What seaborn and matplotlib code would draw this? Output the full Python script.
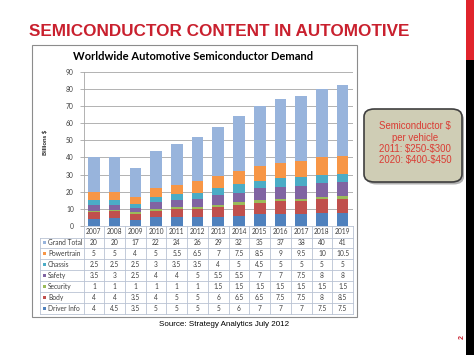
import pandas as pd
import seaborn as sns
import matplotlib.pyplot as plt
from matplotlib.patches import FancyBboxPatch, Rectangle
from matplotlib.lines import Line2D

# data (Billions $)
years = ["2007", "2008", "2009", "2010", "2011", "2012", "2013",
         "2014", "2015", "2016", "2017", "2018", "2019"]
grand_total = [20, 20, 17, 22, 24, 26, 29, 32, 35, 37, 38, 40, 41]
powertrain = [5, 5, 4, 5, 5.5, 6.5, 7, 7.5, 8.5, 9, 9.5, 10, 10.5]
chassis = [2.5, 2.5, 2.5, 3, 3.5, 3.5, 4, 5, 4.5, 5, 5, 5, 5]
safety = [3.5, 3, 2.5, 4, 4, 5, 5.5, 5.5, 7, 7, 7.5, 8, 8]
security = [1, 1, 1, 1, 1, 1, 1.5, 1.5, 1.5, 1.5, 1.5, 1.5, 1.5]
body = [4, 4, 3.5, 4, 5, 5, 6, 6.5, 6.5, 7.5, 7.5, 8, 8.5]
driver_info = [4, 4.5, 3.5, 5, 5, 5, 5, 6, 7, 7, 7, 7.5, 7.5]

series_names = ["Grand Total", "Powertrain", "Chassis", "Safety",
                "Security", "Body", "Driver Info"]
series_vals = [grand_total, powertrain, chassis, safety, security, body, driver_info]
colors = ["#98B4DC", "#F79646", "#4BACC6", "#8064A2",
          "#9BBB59", "#C0504D", "#4F81BD"]

callout_lines = ["Semiconductor \\$", "per vehicle",
                 "2011: \\$250-\\$300", "2020: \\$400-\\$450"]

W, H = 474, 355
def fx(x):
    return x / W
def fy(y):
    return 1 - y / H

fig = plt.figure(figsize=(4.74, 3.55), dpi=100)
fig.patch.set_facecolor("white")

# slide decorations
fig.add_artist(Rectangle((fx(466), fy(60)), fx(474) - fx(466), fy(0) - fy(60),
                         transform=fig.transFigure, color="#E0242C", lw=0))
fig.add_artist(Rectangle((fx(466), 0), fx(474) - fx(466), fy(60),
                         transform=fig.transFigure, color="black", lw=0))
fig.text(fx(219), fy(32), "SEMICONDUCTOR CONTENT IN AUTOMOTIVE",
         ha="center", va="center", fontsize=12.3, fontweight="bold",
         color="#C9202E", family="Liberation Sans")

# chart frame
fig.add_artist(Rectangle((fx(32), fy(317)), fx(357) - fx(32), fy(45) - fy(317),
                         transform=fig.transFigure, fill=False,
                         edgecolor="#8C8C8C", lw=0.8))
fig.text(fx(193), fy(57), "Worldwide Automotive Semiconductor Demand",
         ha="center", va="center", fontsize=8, fontweight="bold",
         color="black", family="Lato")

# stacked bars
left, right, top, bottom = 83.5, 353, 71.7, 226
ax = fig.add_axes([fx(left), fy(bottom), fx(right) - fx(left), fy(top) - fy(bottom)])
df = pd.DataFrame({"year": years})
stack_order = series_names[::-1]
cum = [0] * len(years)
tops = {}
for name in stack_order:
    vals = series_vals[series_names.index(name)]
    cum = [c + v for c, v in zip(cum, vals)]
    tops[name] = list(cum)

for name in series_names:
    df["top"] = tops[name]
    sns.barplot(data=df, x="year", y="top", color=colors[series_names.index(name)],
                saturation=1, width=0.56, errorbar=None, ax=ax, linewidth=0)

ax.set_xlim(-0.5, len(years) - 0.5)
ax.set_ylim(0, 90)
ax.set_yticks(range(0, 91, 10))
ax.set_xticks([])
ax.set_xlabel("")
ax.set_ylabel("")
ax.set_axisbelow(True)
ax.yaxis.grid(True, color="#A6A6A6", lw=0.6)
for s in ["top", "right", "bottom"]:
    ax.spines[s].set_visible(False)
ax.spines["left"].set_color("#A6A6A6")
ax.spines["left"].set_linewidth(0.6)
ax.tick_params(axis="y", length=3, width=0.6, color="#A6A6A6",
               labelsize=4.8, labelcolor="#404040", pad=4)
for t in ax.get_yticklabels():
    t.set_family("Lato")
ax.set_facecolor("white")
fig.text(fx(45), fy(142), "Billions \\$", rotation=90, ha="center", va="center",
         fontsize=4.5, fontweight="bold", family="Lato", color="#262626")

# data table
col_w = (right - left) / len(years)
tab_left = 40
row_edges = [226, 237.5] + [237.5 + 10.9 * (i + 1) for i in range(len(series_names))]
line_kw = dict(color="#B9C3D3", lw=0.6, transform=fig.transFigure)
for i, y in enumerate(row_edges):
    x0 = left if i == 0 else tab_left
    fig.add_artist(Line2D([fx(x0), fx(right)], [fy(y), fy(y)], **line_kw))
fig.add_artist(Line2D([fx(tab_left), fx(tab_left)], [fy(row_edges[1]), fy(row_edges[-1])], **line_kw))
for j in range(len(years) + 1):
    x = left + j * col_w
    fig.add_artist(Line2D([fx(x), fx(x)], [fy(row_edges[0]), fy(row_edges[-1])], **line_kw))

txt_kw = dict(fontsize=4.8, family="Lato", color="#404040", va="center")
for j, yr in enumerate(years):
    fig.text(fx(left + (j + 0.5) * col_w), fy((row_edges[0] + row_edges[1]) / 2), yr,
             ha="center", **txt_kw)
for i, name in enumerate(series_names):
    yc = (row_edges[i + 1] + row_edges[i + 2]) / 2
    fig.add_artist(Rectangle((fx(tab_left + 3), fy(yc + 1.5)), fx(3), fy(0) - fy(3),
                             transform=fig.transFigure, color=colors[i], lw=0))
    fig.text(fx(tab_left + 8), fy(yc), name, ha="left", **txt_kw)
    for j, v in enumerate(series_vals[i]):
        fig.text(fx(left + (j + 0.5) * col_w), fy(yc), f"{v:g}", ha="center", **txt_kw)

fig.text(fx(224), fy(325), "Source: Strategy Analytics July 2012", ha="center",
         va="center", fontsize=5.8, family="Liberation Sans", color="black")

# callout box with a soft shadow
bx0, by0, bx1, by1 = 364, 109, 462, 182
box_style = "round,pad=0,rounding_size=0.022"
fig.add_artist(FancyBboxPatch((fx(bx0 + 2), fy(by1 + 2.5)), fx(bx1) - fx(bx0), fy(by0) - fy(by1),
                              boxstyle=box_style, transform=fig.transFigure,
                              color="#707070", alpha=0.55, lw=0))
fig.add_artist(FancyBboxPatch((fx(bx0), fy(by1)), fx(bx1) - fx(bx0), fy(by0) - fy(by1),
                              boxstyle=box_style, transform=fig.transFigure,
                              facecolor="#CFCDB5", edgecolor="#3F3F3F", lw=1.2))
for k, line in enumerate(callout_lines):
    fig.text(fx(415), fy(126.5 + 11.2 * k), line, ha="center", va="center",
             fontsize=6.9, family="Liberation Sans", color="#DA3B33")

fig.text(fx(462), fy(337), "2", rotation=90, ha="center", va="center",
         fontsize=5, fontweight="bold", family="Liberation Sans", color="#C9202E")

fig.savefig("out.png", dpi=100)
